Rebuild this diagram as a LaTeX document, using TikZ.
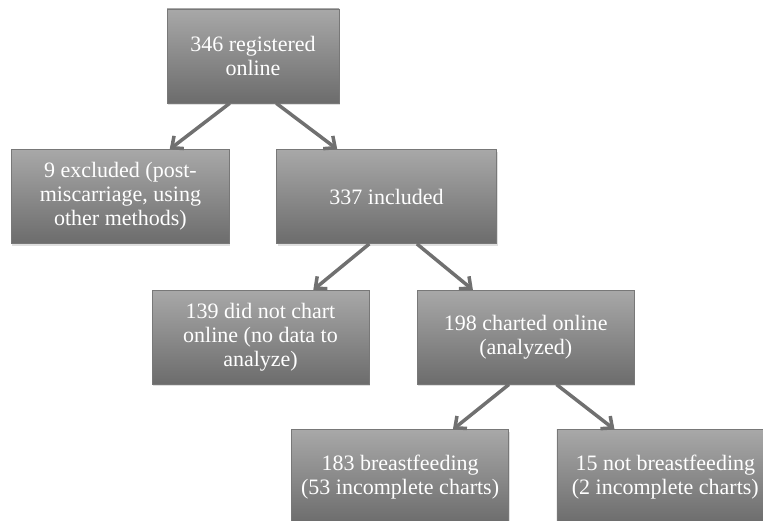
\documentclass[tikz,border=0pt]{standalone}
\usepackage{fontspec}
\setmainfont{Liberation Serif}
\newfontfamily\boxfont{Liberation Serif}
\usetikzlibrary{positioning, shadows, arrows.meta}
\definecolor{boxtop}{RGB}{168,168,168}
\definecolor{boxbot}{RGB}{108,108,108}
\definecolor{boxline}{RGB}{120,120,120}
\definecolor{arrowgray}{RGB}{112,112,112}

\begin{document}
\begin{tikzpicture}[
    x=1pt, y=1pt,
    node distance=46pt,
    flowbox/.style={rectangle, draw=boxline, line width=0.6pt,
        top color=boxtop, bottom color=boxbot,
        drop shadow={opacity=0.25, shadow xshift=1pt, shadow yshift=-2pt},
        minimum width=217pt, minimum height=94pt,
        align=center, text=white,
        font=\boxfont\fontsize{22}{24}\selectfont},
    topbox/.style={flowbox, minimum width=172pt},
    arrow/.style={-{Straight Barb[length=9pt, width=16pt]},
        line width=3.5pt, draw=arrowgray}
]
\useasboundingbox (0,0) rectangle (763,521);

% Registration
\node[topbox] at (253,465) (registered) {346 registered\\online};

% First split
\node[flowbox, minimum width=218pt, below left=46pt and -63pt of registered] (excluded) {9 excluded (post-\\miscarriage, using\\other methods)};
\node[flowbox, minimum width=220pt, below right=46pt and -63pt of registered] (included) {337 included};

% Charting
\node[flowbox, below left=46pt and -93pt of included] (nochart) {139 did not chart\\online (no data to\\analyze)};
\node[flowbox, below right=46pt and -80pt of included] (charted) {198 charted online\\(analyzed)};

% Breastfeeding status
\node[flowbox, below left=45pt and -92pt of charted] (breastfed) {183 breastfeeding\\(53 incomplete charts)};
\node[flowbox, below right=45pt and -78pt of charted] (notbreastfed) {15 not breastfeeding\\(2 incomplete charts)};

% Arrows
\draw[arrow] (registered.south -| excluded.east) -- ([xshift=-60pt]excluded.north east);
\draw[arrow] (registered.south -| included.west) -- ([xshift=61pt]included.north west);
\draw[arrow] (included.south -| nochart.east) -- ([xshift=-56pt]nochart.north east);
\draw[arrow] (included.south -| charted.west) -- ([xshift=56pt]charted.north west);
\draw[arrow] (charted.south -| breastfed.east) -- ([xshift=-56pt]breastfed.north east);
\draw[arrow] (charted.south -| notbreastfed.west) -- ([xshift=58pt]notbreastfed.north west);

\end{tikzpicture}
\end{document}
